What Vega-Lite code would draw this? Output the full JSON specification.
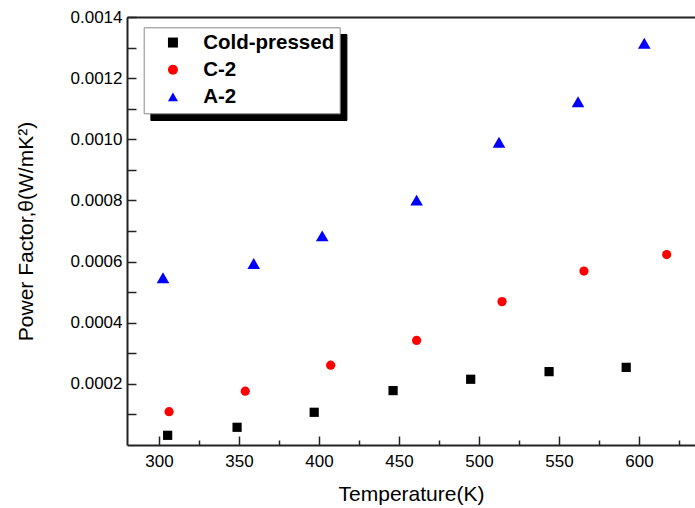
{
  "$schema": "https://vega.github.io/schema/vega-lite/v6.json",
  "width": 568,
  "height": 428,
  "autosize": "none",
  "padding": {"left": 127, "top": 17, "right": 0, "bottom": 63},
  "background": "white",
  "config": {
    "view": {"stroke": null},
    "font": "Liberation Sans"
  },
  "data": {
    "values": [
      {"T": 305.4, "PF": 0.0000317, "series": "Cold-pressed"},
      {"T": 348.8, "PF": 0.0000579, "series": "Cold-pressed"},
      {"T": 397.0, "PF": 0.000107, "series": "Cold-pressed"},
      {"T": 446.3, "PF": 0.000178, "series": "Cold-pressed"},
      {"T": 494.8, "PF": 0.000215, "series": "Cold-pressed"},
      {"T": 543.8, "PF": 0.000240, "series": "Cold-pressed"},
      {"T": 592.0, "PF": 0.000254, "series": "Cold-pressed"},
      {"T": 306.3, "PF": 0.000109, "series": "C-2"},
      {"T": 353.9, "PF": 0.000176, "series": "C-2"},
      {"T": 407.3, "PF": 0.000261, "series": "C-2"},
      {"T": 461.0, "PF": 0.000342, "series": "C-2"},
      {"T": 514.4, "PF": 0.000469, "series": "C-2"},
      {"T": 565.6, "PF": 0.000569, "series": "C-2"},
      {"T": 617.3, "PF": 0.000623, "series": "C-2"},
      {"T": 302.5, "PF": 0.000547, "series": "A-2"},
      {"T": 359.2, "PF": 0.000594, "series": "A-2"},
      {"T": 402.0, "PF": 0.000684, "series": "A-2"},
      {"T": 461.0, "PF": 0.000801, "series": "A-2"},
      {"T": 512.5, "PF": 0.000990, "series": "A-2"},
      {"T": 561.9, "PF": 0.001123, "series": "A-2"},
      {"T": 603.3, "PF": 0.001314, "series": "A-2"}
    ]
  },
  "encoding": {
    "y": {
      "field": "PF",
      "type": "quantitative",
      "scale": {"domain": [0, 0.0014], "nice": false, "zero": false},
      "axis": {
        "title": "Power Factor,θ(W/mK²)",
        "values": [0.0001, 0.0002, 0.0003, 0.0004, 0.0005, 0.0006, 0.0007, 0.0008, 0.0009, 0.001, 0.0011, 0.0012, 0.0013, 0.0014],
        "labelExpr": "round(datum.value*10000) % 2 == 0 ? format(datum.value, '.4f') : ''",
        "labelOverlap": false,
        "labelFlush": false,
        "grid": false,
        "tickSize": -9,
        "tickColor": "#222",
        "tickWidth": 1.5,
        "domainColor": "#222",
        "domainWidth": 2,
        "labelFont": "Liberation Sans",
        "labelFontSize": 17,
        "labelColor": "black",
        "labelPadding": 14,
        "titleFont": "Liberation Sans",
        "titleFontSize": 21,
        "titleFontWeight": "normal",
        "titleColor": "black",
        "titlePadding": 34
      }
    }
  },
  "layer": [
    {
      "mark": {"type": "point", "filled": true, "opacity": 1},
      "encoding": {
        "x": {
          "field": "T",
          "type": "quantitative",
          "scale": {"domain": [280, 635], "nice": false, "zero": false},
          "axis": {
            "orient": "bottom",
            "title": "Temperature(K)",
            "values": [300, 350, 400, 450, 500, 550, 600],
            "format": "d",
            "labelOverlap": false,
            "labelFlush": false,
            "grid": false,
            "tickSize": -9,
            "tickColor": "#222",
            "tickWidth": 1.5,
            "domainColor": "#222",
            "domainWidth": 2,
            "labelFont": "Liberation Sans",
            "labelFontSize": 17,
            "labelColor": "black",
            "labelPadding": 17,
            "titleFont": "Liberation Sans",
            "titleFontSize": 21,
            "titleFontWeight": "normal",
            "titleColor": "black",
            "titlePadding": 14
          }
        },
        "color": {
          "field": "series",
          "type": "nominal",
          "scale": {"domain": ["Cold-pressed", "C-2", "A-2"], "range": ["#000000", "#ff0000", "#0000ff"]},
          "legend": {
            "orient": "none",
            "legendX": 16.7,
            "legendY": 10.3,
            "title": null,
            "labelFont": "Liberation Sans",
            "labelFontWeight": "bold",
            "labelFontSize": 20.5,
            "labelColor": "black",
            "fillColor": "white",
            "strokeColor": "#888888",
            "padding": 5,
            "symbolOffset": 14,
            "labelOffset": 20,
            "rowPadding": 6.2,
            "symbolSize": 100,
            "symbolStrokeWidth": 0,
            "zindex": 1
          }
        },
        "shape": {
          "field": "series",
          "type": "nominal",
          "scale": {"domain": ["Cold-pressed", "C-2", "A-2"], "range": ["square", "circle", "triangle-up"]}
        },
        "size": {
          "condition": {"test": "datum.series === 'A-2'", "value": 160},
          "value": 85
        },
        "opacity": {
          "field": "series",
          "type": "nominal",
          "scale": {"range": [1, 1]},
          "legend": {
            "orient": "none",
            "legendX": 23.4,
            "legendY": 17,
            "title": null,
            "labelExpr": "' '",
            "labelFont": "Liberation Sans",
            "labelFontWeight": "bold",
            "labelFontSize": 20.5,
            "labelColor": "black",
            "labelOpacity": 0,
            "fillColor": "black",
            "strokeColor": "black",
            "padding": 5,
            "symbolOffset": 14,
            "labelOffset": 151,
            "rowPadding": 6.2,
            "symbolType": "square",
            "symbolSize": 100,
            "symbolFillColor": "black",
            "symbolStrokeWidth": 0,
            "zindex": 0
          }
        }
      }
    },
    {
      "mark": {"type": "point", "opacity": 0},
      "encoding": {
        "x": {
          "field": "T",
          "type": "quantitative",
          "scale": {"domain": [280, 635], "nice": false, "zero": false},
          "axis": {
            "orient": "bottom",
            "title": null,
            "values": [325, 375, 425, 475, 525, 575, 625],
            "labels": false,
            "domain": false,
            "grid": false,
            "tickSize": -5,
            "tickColor": "#222",
            "tickWidth": 1.5
          }
        }
      }
    },
    {
      "mark": {"type": "point", "opacity": 0},
      "encoding": {
        "x": {
          "field": "T",
          "type": "quantitative",
          "scale": {"domain": [280, 635], "nice": false, "zero": false},
          "axis": {
            "orient": "top",
            "title": null,
            "labels": false,
            "ticks": false,
            "grid": false,
            "domain": true,
            "domainColor": "#222",
            "domainWidth": 2
          }
        }
      }
    }
  ],
  "resolve": {"axis": {"x": "independent"}}
}
